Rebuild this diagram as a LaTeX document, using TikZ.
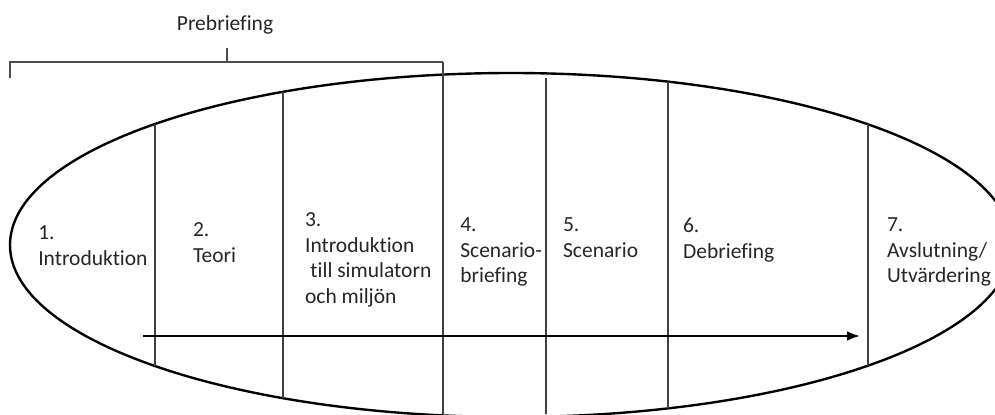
\documentclass[tikz,border=0pt]{standalone}
\usepackage{fontspec}
\setmainfont{Carlito}[Ligatures=NoCommon]
\usetikzlibrary{arrows.meta}

\tikzset{
  phase/.style={anchor=north west, align=left, inner sep=0pt, text=black!85,
    font=\fontsize{15.3}{18.2}\selectfont},
  divider/.style={line width=1.1pt, black!75},
  bracket/.style={line width=1.1pt, black!70}
}

\begin{document}
\begin{tikzpicture}
      \path [use as bounding box, clip] (0,0) rectangle (24.875,-10.35);

      \draw [line width=1.7pt] (12.775,-6.125) ellipse [x radius=12.525, y radius=4.3];

      \begin{scope}
        \clip (12.775,-6.125) ellipse [x radius=12.525, y radius=4.3];
        \draw [divider] (3.875, 0) -- (3.875, -10.35);
        \draw [divider] (7.075, 0) -- (7.075, -10.35);
        \draw [divider] (13.65, -1.95) -- (13.65, -10.35);
        \draw [divider] (16.7, 0) -- (16.7, -10.35);
        \draw [divider] (21.7, 0) -- (21.7, -10.35);
      \end{scope}
      \draw [divider] (11.075, -1.55) -- (11.075, -10.35);

      \draw [bracket] (0.25, -1.95) -- (0.25, -1.55) -- (11.075, -1.55);
      \draw [bracket] (5.675, -1.55) -- (5.675, -1.2);
      \node [phase, anchor=center] (pre) at (5.625, -0.625) {Prebriefing};

      \node [phase] (intro) at (0.95, -5.64) {1.\\Introduktion};
      \node [phase] (teori) at (4.82, -5.56) {2.\\Teori};
      \node [phase] (simulator) at (7.62, -5.31) {3.\\Introduktion\\\hspace{0.25em}till simulatorn\\och miljön};
      \node [phase] (briefing) at (11.5, -5.44) {4.\\Scenario-\\briefing};
      \node [phase] (scenario) at (14.07, -5.44) {5.\\Scenario};
      \node [phase] (debriefing) at (17.07, -5.44) {6.\\Debriefing};
      \node [phase] (avslutning) at (22.17, -5.44) {7.\\Avslutning/\\Utvärdering};

      \coordinate (flowstart) at (3.575, -8.4);
      \coordinate (flowend) at (21.5, -8.4);
      \draw [line width=1.5pt, -{Latex[length=3.2mm, width=2.4mm]}] (flowstart) -- (flowend);
\end{tikzpicture}
\end{document}
